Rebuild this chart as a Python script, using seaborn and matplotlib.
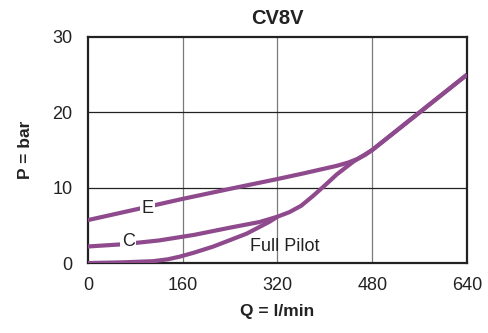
import matplotlib
matplotlib.use("Agg")
import matplotlib.pyplot as plt
import seaborn as sns
import pandas as pd

title = "CV8V"
x_label = "Q = l/min"
y_label = "P = bar"
x_ticks = [0, 160, 320, 480, 640]
y_ticks = [0, 10, 20, 30]

q_e = [0, 80, 159, 240, 320, 364, 420, 440, 456, 468, 480, 560, 640]
p_e = [5.7, 7.1, 8.5, 9.85, 11.15, 11.9, 12.9, 13.35, 13.85, 14.35, 15.0, 20.0, 25.0]

q_c = [0, 60, 120, 180, 240, 290, 320, 340, 360, 380, 400, 420, 448, 480, 560, 640]
p_c = [2.2, 2.5, 3.0, 3.75, 4.7, 5.45, 6.15, 6.75, 7.6, 8.9, 10.3, 11.75, 13.45, 15.0, 20.0, 25.0]

q_fp = [0, 60, 110, 135, 155, 180, 212, 268, 307, 320]
p_fp = [0.0, 0.1, 0.25, 0.5, 0.85, 1.4, 2.2, 3.9, 5.5, 6.15]

color = "#8e4a8c"

sns.set_theme(style="white")
plt.rcParams['font.family'] = ['Liberation Sans', 'DejaVu Sans']

fig, ax = plt.subplots(figsize=(4.88, 3.33), dpi=100)
fig.subplots_adjust(left=0.18, right=0.957, top=0.889, bottom=0.21)

for q, p in [(q_e, p_e), (q_c, p_c), (q_fp, p_fp)]:
    df = pd.DataFrame({"Q": q, "P": p})
    sns.lineplot(data=df, x="Q", y="P", ax=ax, color=color, linewidth=3.0,
                 solid_capstyle="butt", solid_joinstyle="round", zorder=3)

ax.set_xlim(0, 640)
ax.set_ylim(0, 30)
ax.set_xticks(x_ticks)
ax.set_yticks(y_ticks)
ax.tick_params(axis="x", length=0, labelsize=13, colors="#222222", pad=10)
ax.tick_params(axis="y", length=0, labelsize=13, colors="#222222", pad=11)
for v in x_ticks[1:-1]:
    ax.axvline(v, color="#7a7a7a", linewidth=0.9, zorder=1)
for v in y_ticks[1:-1]:
    ax.axhline(v, color="#222222", linewidth=0.9, zorder=1)
for s in ax.spines.values():
    s.set_color("#222222")
    s.set_linewidth(1.6)

ax.set_xlabel(x_label, fontsize=12.5, fontweight="bold", color="#222222", labelpad=7)
ax.set_ylabel(y_label, fontsize=12.5, fontweight="bold", color="#222222", labelpad=14)
ax.set_title(title, fontsize=14.5, fontweight="bold", color="#222222", pad=9)

bbox = dict(boxstyle="square,pad=0.1", fc="white", ec="none")
ax.text(101, 7.3, "E", fontsize=13, color="#222222", ha="center", va="center", bbox=bbox, zorder=4)
ax.text(68, 2.8, "C", fontsize=13, color="#222222", ha="center", va="center", bbox=bbox, zorder=4)
ax.text(332, 2.2, "Full Pilot", fontsize=13, color="#222222", ha="center", va="center", zorder=4)

fig.savefig("out.png", dpi=100)
